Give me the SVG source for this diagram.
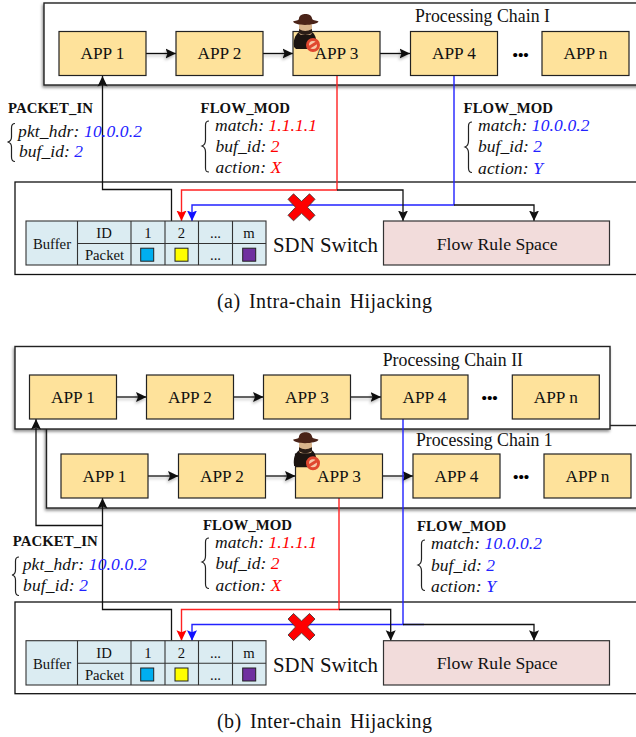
<svg xmlns="http://www.w3.org/2000/svg" width="636" height="737" viewBox="0 0 636 737">
<style>
text{font-family:"Liberation Serif","Times New Roman",serif;fill:#111}
.chain{fill:#fff;stroke:#222;stroke-width:1.4;filter:url(#sh)}
.switch{fill:#fff;stroke:#111;stroke-width:1.3}
.app{fill:#fee29b;stroke:#222;stroke-width:1.2}
.appt{font-size:17.300px;text-anchor:middle}
.dots{font-size:15.500px;font-weight:bold;fill:#000}
.title{font-size:17.800px}
.hd{font-size:14.800px;font-weight:bold}
.it{font-size:17.500px;font-style:italic}
.r{fill:#f00}
.b{fill:#22f}
.brace{fill:none;stroke:#222;stroke-width:1.2}
.cell{fill:#dbecf2;stroke:#333;stroke-width:1.1}
.tt{font-size:14.700px;text-anchor:middle}
.sw{font-size:20.800px}
.flow{fill:#f2dcdb;stroke:#333;stroke-width:1.2}
.ft{font-size:17.700px}
.cap{font-size:20px;word-spacing:3px}
.k{fill:none;stroke:#111;stroke-width:1.300}
.kc{fill:none;stroke:#111;stroke-width:1.300;filter:url(#ls)}
.red{fill:none;stroke:#f22;stroke-width:1.400}
.blue{fill:none;stroke:#22f;stroke-width:1.400}
.xm{fill:#f00;stroke:#333;stroke-width:.8}
</style>
<defs>
<filter id="sh" x="-5%" y="-10%" width="110%" height="125%"><feDropShadow dx="-1" dy="2" stdDeviation="1.600" flood-color="#000" flood-opacity=".45"/></filter>
<filter id="ls" filterUnits="userSpaceOnUse" x="0" y="0" width="636" height="737"><feDropShadow dx="-1" dy="2" stdDeviation="1.400" flood-color="#000" flood-opacity=".3"/></filter>
<marker id="ah" markerUnits="userSpaceOnUse" markerWidth="12" markerHeight="12" refX="10.500" refY="5.500" orient="auto"><path d="M0 0.500L10.500 5.500L0 10.500L2 5.500Z" fill="#111"/></marker>
<marker id="ar" markerUnits="userSpaceOnUse" markerWidth="12" markerHeight="12" refX="10.500" refY="5.500" orient="auto"><path d="M0 0.500L10.500 5.500L0 10.500L2 5.500Z" fill="#f00"/></marker>
<marker id="ab" markerUnits="userSpaceOnUse" markerWidth="12" markerHeight="12" refX="10.500" refY="5.500" orient="auto"><path d="M0 0.500L10.500 5.500L0 10.500L2 5.500Z" fill="#11f"/></marker>
<g id="hacker">
<path d="M294 47C293 40 295 35 299 32H312C316 35 317 41 316 45L308 49H296Z" fill="#1c1410"/>
<rect x="299" y="23" width="13" height="12" rx="3" fill="#d8b48c"/>
<path d="M299 29Q305 33 312 29L312 33Q305 37 299 33Z" fill="#2a1d16"/>
<path d="M293 21.500C297 20 299 21 299 18C300 12.500 311 12.500 312 18C312 21 316 20 318.500 21.500C317 25.500 295 26.500 293 21.500Z" fill="#4a2318"/>
<circle cx="313" cy="45" r="5.500" fill="#f6c8a8" stroke="#e0472f" stroke-width="3"/>
<path d="M309 47.500L317 42.500" stroke="#e0472f" stroke-width="3"/>
</g>
<path id="xmark" d="M-13.500 -8L-8 -13.500L0 -6L8 -13.500L13.500 -8L6 0L13.500 8L8 13.500L0 6L-8 13.500L-13.500 8L-6 0Z"/>
</defs>
<rect width="636" height="737" fill="#fff"/>

<g id="switch-a-box"><rect class="switch" x="15" y="182" width="640" height="92.500"/></g>
<g id="chain-a-box"><rect class="chain" x="44" y="3" width="620" height="82"/><text class="title" x="415" y="21.700" textLength="135">Processing Chain I</text></g>
<g id="switch-b-box"><rect class="switch" x="15" y="602" width="640" height="91.700"/></g>
<g id="chain-b1-box"><rect class="chain" x="46.500" y="425.500" width="620" height="82.500"/><text class="title" x="416" y="445.700" textLength="136.700">Processing Chain 1</text></g>
<g id="chain-b2-box"><rect class="chain" x="15" y="346.500" width="595" height="82.500"/><text class="title" x="382.700" y="365.700" textLength="140.300">Processing Chain II</text></g>

<g id="connectors">
<path class="kc" d="M146 53.500H176" marker-end="url(#ah)"/>
<path class="kc" d="M263 53.500H293" marker-end="url(#ah)"/>
<path class="kc" d="M380 53.500H410" marker-end="url(#ah)"/>
<path class="k" d="M171.500 221V189.500H102.500V76" marker-end="url(#ah)"/>
<path class="red" d="M337 76V190H181.500V221" marker-end="url(#ar)"/>
<path class="blue" d="M454 76V205H192V221" marker-end="url(#ab)"/>
<path class="k" d="M337 190H403V221" marker-end="url(#ah)"/>
<path class="k" d="M454 205H534V221" marker-end="url(#ah)"/>

<path class="kc" d="M116.500 397H146.500" marker-end="url(#ah)"/>
<path class="kc" d="M233.500 397H263.500" marker-end="url(#ah)"/>
<path class="kc" d="M350.500 397H381" marker-end="url(#ah)"/>
<path class="kc" d="M148 476H178.500" marker-end="url(#ah)"/>
<path class="kc" d="M265.500 476H295.500" marker-end="url(#ah)"/>
<path class="kc" d="M382.500 476H413" marker-end="url(#ah)"/>
<path class="k" d="M102.500 525.500H36V419" marker-end="url(#ah)"/>
<path class="k" d="M171.500 640.700V609.500H102.500V498" marker-end="url(#ah)"/>
<path class="red" d="M339 498V609.500H181.500V640.700" marker-end="url(#ar)"/>
<path class="blue" d="M403 419V624.500H192V640.700" marker-end="url(#ab)"/>
<path class="blue" d="M403 624.500H424"/>
<path class="k" d="M339 609.500H390.700V640.700" marker-end="url(#ah)"/>
<path class="k" d="M403 624.500H534V640.700" marker-end="url(#ah)"/>
</g>

<g id="a-app1"><rect class="app" x="59" y="31.500" width="87" height="44"/><text class="appt" x="102.500" y="59">APP 1</text></g>
<g id="a-app2"><rect class="app" x="176" y="31.500" width="87" height="44"/><text class="appt" x="219.500" y="59">APP 2</text></g>
<g id="a-app3"><rect class="app" x="293" y="31.500" width="87" height="44"/><text class="appt" x="336.500" y="59">APP 3</text></g>
<g id="a-app4"><rect class="app" x="410.500" y="31.500" width="87" height="44"/><text class="appt" x="454" y="59">APP 4</text></g>
<g id="a-appn"><rect class="app" x="542" y="31.500" width="87" height="44"/><text class="appt" x="585.500" y="59">APP n</text></g>
<text class="dots" x="512.500" y="60">•••</text>
<use id="a-hacker" href="#hacker"/>

<g id="a-packet-in">
<text class="hd" x="8" y="113" textLength="85">PACKET_IN</text>
<path class="brace" d="M15 123.500C12 123.500 11.500 125 11.500 128V137C11.500 140 10.500 141.500 7.500 142C10.500 142.500 11.500 144 11.500 147V157C11.500 160 12 161.500 15 161.500"/>
<text class="it" x="18" y="137" textLength="124">pkt_hdr: <tspan class="b">10.0.0.2</tspan></text>
<text class="it" x="19" y="157" textLength="64">buf_id: <tspan class="b">2</tspan></text>
</g>
<g id="a-flow-mod-red">
<text class="hd" x="200.500" y="113" textLength="89.500">FLOW_MOD</text>
<path class="brace" d="M209 121C206 121 205.500 122.500 205.500 125V140C205.500 143 204.500 145 202 146C204.500 147 205.500 149 205.500 152V168C205.500 171 206 172 209 172"/>
<text class="it" x="215" y="131" textLength="102">match: <tspan class="r">1.1.1.1</tspan></text>
<text class="it" x="215.500" y="152" textLength="64">buf_id: <tspan class="r">2</tspan></text>
<text class="it" x="215.500" y="173" textLength="66">action: <tspan class="r">X</tspan></text>
</g>
<g id="a-flow-mod-blue">
<text class="hd" x="463.500" y="113" textLength="89.500">FLOW_MOD</text>
<path class="brace" d="M472 122C469 122 468.500 123.500 468.500 126V141C468.500 144 467.500 146 465 147C467.500 148 468.500 150 468.500 153V168C468.500 171 469 172.500 472 172.500"/>
<text class="it" x="478" y="131" textLength="111.500">match: <tspan class="b">10.0.0.2</tspan></text>
<text class="it" x="478" y="152" textLength="64">buf_id: <tspan class="b">2</tspan></text>
<text class="it" x="478" y="174" textLength="65">action: <tspan class="b">Y</tspan></text>
</g>

<g id="a-buffer">
<rect class="cell" x="26" y="221" width="240" height="44"/>
<path class="cell" d="M77.500 221V265M131 221V265M165 221V265M198.500 221V265M232.500 221V265M77.500 243.500H266"/>
<text class="tt" x="52" y="249">Buffer</text><text class="tt" x="104" y="238">ID</text><text class="tt" x="104.500" y="260">Packet</text>
<text class="tt" x="148" y="238">1</text><text class="tt" x="181.500" y="238">2</text><text class="tt" x="215.500" y="238">...</text><text class="tt" x="249" y="238">m</text><text class="tt" x="215.500" y="260">...</text>
<rect x="140.700" y="248.200" width="13" height="13" fill="#00aeef" stroke="#222"/><rect x="175" y="248.200" width="13" height="13" fill="#ff0" stroke="#222"/><rect x="242.700" y="248.200" width="13" height="13" fill="#7030a0" stroke="#222"/>
</g>
<text id="a-sdn" class="sw" x="273" y="251.700" textLength="105">SDN Switch</text>
<g id="a-flow-space"><rect class="flow" x="383.500" y="221" width="226" height="44"/><text class="ft" x="436.700" y="250" textLength="121">Flow Rule Space</text></g>
<use id="a-cross" class="xm" href="#xmark" x="301.500" y="207.300"/>
<text id="a-caption" class="cap" x="217" y="307.700" textLength="215">(a) Intra-chain Hijacking</text>

<g id="b2-app1"><rect class="app" x="29.500" y="375" width="87" height="44"/><text class="appt" x="73" y="403">APP 1</text></g>
<g id="b2-app2"><rect class="app" x="146.500" y="375" width="87" height="44"/><text class="appt" x="190" y="403">APP 2</text></g>
<g id="b2-app3"><rect class="app" x="263.500" y="375" width="87" height="44"/><text class="appt" x="307" y="403">APP 3</text></g>
<g id="b2-app4"><rect class="app" x="381" y="375" width="87" height="44"/><text class="appt" x="424.500" y="403">APP 4</text></g>
<g id="b2-appn"><rect class="app" x="512.300" y="375" width="87" height="44"/><text class="appt" x="555.800" y="403">APP n</text></g>
<text class="dots" x="481.500" y="403">•••</text>

<g id="b1-app1"><rect class="app" x="61" y="454" width="87" height="44"/><text class="appt" x="104.500" y="482">APP 1</text></g>
<g id="b1-app2"><rect class="app" x="178.500" y="454" width="87" height="44"/><text class="appt" x="222" y="482">APP 2</text></g>
<g id="b1-app3"><rect class="app" x="295.500" y="454" width="87" height="44"/><text class="appt" x="339" y="482">APP 3</text></g>
<g id="b1-app4"><rect class="app" x="413" y="454" width="87" height="44"/><text class="appt" x="456.500" y="482">APP 4</text></g>
<g id="b1-appn"><rect class="app" x="544" y="454" width="87" height="44"/><text class="appt" x="587.500" y="482">APP n</text></g>
<text class="dots" x="513" y="481.500">•••</text>
<use id="b-hacker" href="#hacker" y="418.300"/>

<g id="b-packet-in">
<text class="hd" x="12.700" y="545.700" textLength="85">PACKET_IN</text>
<path class="brace" d="M19 557C16 557 15.500 558.500 15.500 561V570C15.500 573 14.500 574.500 12 575C14.500 575.500 15.500 577 15.500 580V591C15.500 594 16 595.500 19 595.500"/>
<text class="it" x="22.700" y="570" textLength="124">pkt_hdr: <tspan class="b">10.0.0.2</tspan></text>
<text class="it" x="23" y="590.700" textLength="65">buf_id: <tspan class="b">2</tspan></text>
</g>
<g id="b-flow-mod-red">
<text class="hd" x="203" y="530" textLength="89">FLOW_MOD</text>
<path class="brace" d="M209 538C206 538 205.500 539.500 205.500 542V556C205.500 559 204.500 561 202 562C204.500 563 205.500 565 205.500 568V584C205.500 587 206 588.500 209 588.500"/>
<text class="it" x="215" y="547.700" textLength="102">match: <tspan class="r">1.1.1.1</tspan></text>
<text class="it" x="215.500" y="569" textLength="64">buf_id: <tspan class="r">2</tspan></text>
<text class="it" x="215.500" y="590.700" textLength="66">action: <tspan class="r">X</tspan></text>
</g>
<g id="b-flow-mod-blue">
<text class="hd" x="417" y="531" textLength="89.300">FLOW_MOD</text>
<path class="brace" d="M425 540C422 540 421.500 541.500 421.500 544V559C421.500 562 420.500 564 418 565C420.500 566 421.500 568 421.500 571V586C421.500 589 422 590.500 425 590.500"/>
<text class="it" x="431" y="549.300" textLength="111">match: <tspan class="b">10.0.0.2</tspan></text>
<text class="it" x="431" y="570.700" textLength="64">buf_id: <tspan class="b">2</tspan></text>
<text class="it" x="431" y="592.300" textLength="65">action: <tspan class="b">Y</tspan></text>
</g>

<g id="b-buffer">
<rect class="cell" x="26" y="640.700" width="240" height="44.300"/>
<path class="cell" d="M77.500 640.700V685M131 640.700V685M165 640.700V685M198.500 640.700V685M232.500 640.700V685M77.500 663.300H266"/>
<text class="tt" x="52" y="669">Buffer</text><text class="tt" x="104" y="658">ID</text><text class="tt" x="104.500" y="680">Packet</text>
<text class="tt" x="148" y="658">1</text><text class="tt" x="181.500" y="658">2</text><text class="tt" x="215.500" y="658">...</text><text class="tt" x="249" y="658">m</text><text class="tt" x="215.500" y="680">...</text>
<rect x="140.700" y="668" width="13" height="13" fill="#00aeef" stroke="#222"/><rect x="175" y="668" width="13" height="13" fill="#ff0" stroke="#222"/><rect x="242.700" y="668" width="13" height="13" fill="#7030a0" stroke="#222"/>
</g>
<text id="b-sdn" class="sw" x="273" y="671.500" textLength="105">SDN Switch</text>
<g id="b-flow-space"><rect class="flow" x="383.500" y="640.700" width="226" height="44.300"/><text class="ft" x="436.700" y="669" textLength="121">Flow Rule Space</text></g>
<use id="b-cross" class="xm" href="#xmark" x="301.500" y="627"/>
<text id="b-caption" class="cap" x="217" y="728" textLength="215">(b) Inter-chain Hijacking</text>
</svg>
